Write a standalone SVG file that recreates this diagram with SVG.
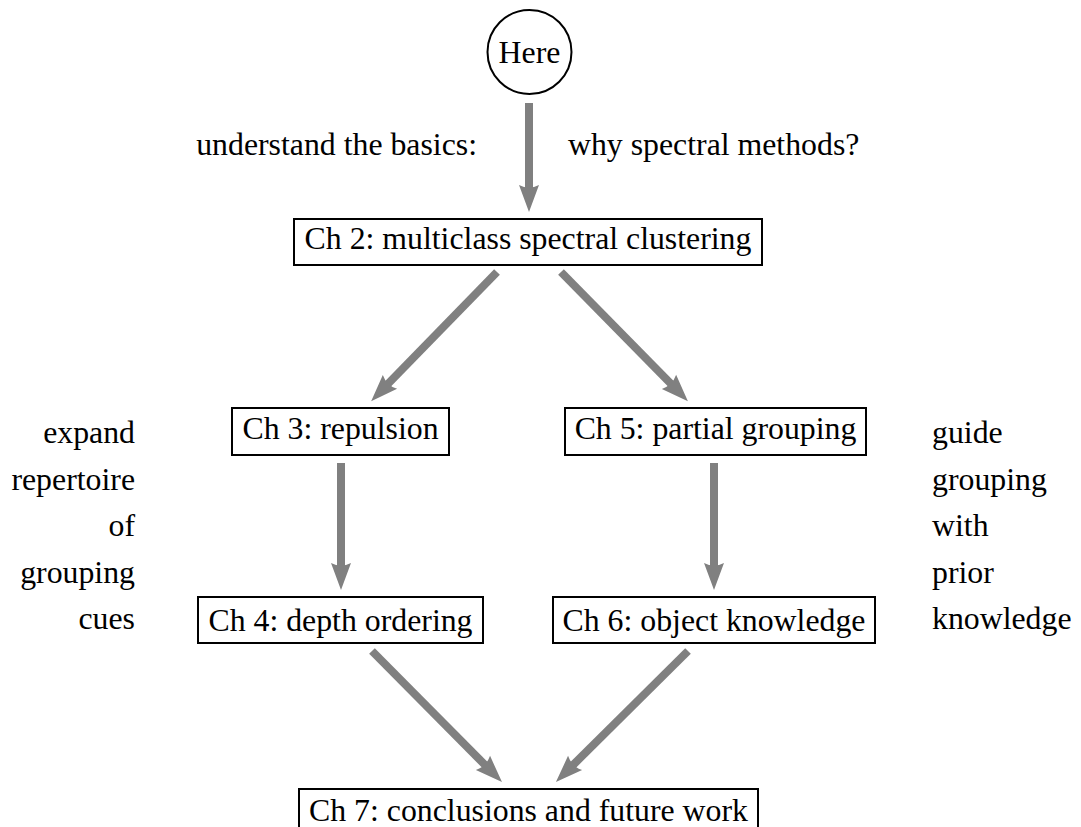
<svg xmlns="http://www.w3.org/2000/svg" width="1081" height="827" viewBox="0 0 1081 827">
<style>
text{font-family:'Liberation Serif',serif;font-size:31.8px;fill:#000}
.box{fill:#fff;stroke:#000;stroke-width:2}
.c{text-anchor:middle}
.r{text-anchor:end}
.arr{stroke:#808080;stroke-width:8;fill:none;marker-end:url(#ah)}
</style>
<defs>
<marker id="ah" markerUnits="userSpaceOnUse" orient="auto" refX="0" refY="0" markerWidth="60" markerHeight="60" overflow="visible">
<path d="M18,0 L-9,-10 Q-4,0 -9,10 Z" fill="#808080"/>
</marker>
</defs>
<rect width="1081" height="827" fill="#fff"/>
<g id="connectors">
<line class="arr" x1="529" y1="103" x2="529" y2="194"/>
<line class="arr" x1="497" y1="272" x2="383.7" y2="388.3"/>
<line class="arr" x1="561" y1="272" x2="675.3" y2="388.3"/>
<line class="arr" x1="341" y1="463" x2="341" y2="572"/>
<line class="arr" x1="714" y1="463" x2="714" y2="572"/>
<line class="arr" x1="372" y1="651" x2="489.3" y2="769.3"/>
<line class="arr" x1="688" y1="651" x2="568.7" y2="769.3"/>
</g>
<g font-family="Liberation Serif, serif">
<g id="here">
<circle cx="529.5" cy="52" r="42" fill="#fff" stroke="#000" stroke-width="2"/>
<text class="c" x="529.5" y="63">Here</text>
</g>
<g id="labels-top">
<text class="r" x="477" y="155">understand the basics:</text>
<text x="568" y="155">why spectral methods?</text>
</g>
<g id="ch2">
<rect class="box" x="294" y="219" width="468" height="46"/>
<text class="c" x="528" y="249">Ch 2: multiclass spectral clustering</text>
</g>
<g id="ch3">
<rect class="box" x="232" y="408" width="217" height="47"/>
<text class="c" x="340.5" y="439">Ch 3: repulsion</text>
</g>
<g id="ch5">
<rect class="box" x="565" y="408" width="301" height="47"/>
<text class="c" x="715.5" y="439">Ch 5: partial grouping</text>
</g>
<g id="ch4">
<rect class="box" x="198" y="597" width="285" height="46"/>
<text class="c" x="340.5" y="631">Ch 4: depth ordering</text>
</g>
<g id="ch6">
<rect class="box" x="553" y="597" width="322" height="46"/>
<text class="c" x="714" y="631">Ch 6: object knowledge</text>
</g>
<g id="ch7">
<rect class="box" x="299" y="789" width="459" height="50"/>
<text class="c" x="528.5" y="821">Ch 7: conclusions and future work</text>
</g>
<g id="labels-left">
<text class="r" x="135" y="443">expand</text>
<text class="r" x="135" y="489.5">repertoire</text>
<text class="r" x="135" y="536">of</text>
<text class="r" x="135" y="582.5">grouping</text>
<text class="r" x="135" y="629">cues</text>
</g>
<g id="labels-right">
<text x="932" y="443">guide</text>
<text x="932" y="489.5">grouping</text>
<text x="932" y="536">with</text>
<text x="932" y="582.5">prior</text>
<text x="932" y="629">knowledge</text>
</g>
</g>
</svg>
